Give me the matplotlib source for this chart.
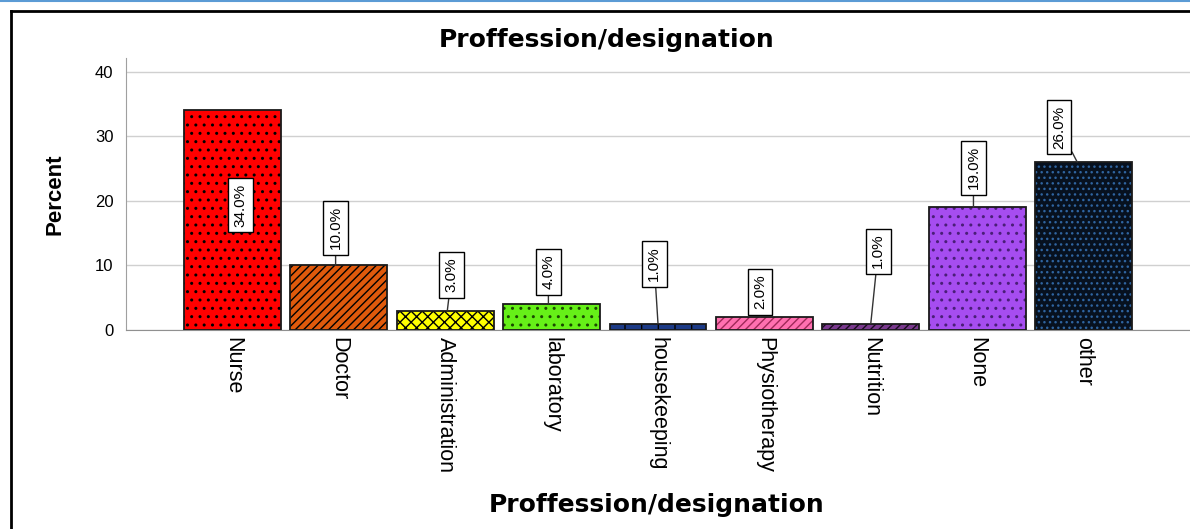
import matplotlib.pyplot as plt
from matplotlib.lines import Line2D

categories = ["Nurse", "Doctor", "Administration", "laboratory", "housekeeping",
              "Physiotherapy", "Nutrition", "None", "other"]
percent = [34.0, 10.0, 3.0, 4.0, 1.0, 2.0, 1.0, 19.0, 26.0]

# bar styling
face_colors = ["#FF0000", "#E05A0C", "#FFFF00", "#66F018", "#1C3A86",
               "#FF70B0", "#7A3A8E", "#A64DF0", "#07111F"]
hatch_colors = ["#000000", "#000000", "#000000", "#1A4A00", "#000000",
                "#A02858", "#1A0A20", "#4A1E78", "#2F64A0"]
hatches = ["..", "////", "xxx", "..", "|", "////", "////", "..", "..."]

# where the value boxes sit (box centre: x offset from bar, y in data units)
label_dx = [0.075, -0.03, 0.06, -0.03, -0.035, -0.04, 0.07, -0.035, -0.23]
label_y = [19.3, 15.8, 8.5, 9.0, 10.2, 5.9, 12.2, 25.1, 31.4]
line_dx = [0.0, -0.03, 0.02, -0.03, 0.0, -0.04, 0.0, -0.035, -0.06]

plt.rcParams['font.family'] = ['Liberation Sans', 'DejaVu Sans']

fig = plt.figure(figsize=(11.9, 5.29), dpi=100)
ax = fig.add_axes([0.10588, 0.37618, 0.8941, 0.5142])

x = list(range(len(categories)))
plt.rcParams['hatch.linewidth'] = 1.0
for i in x:
    ax.bar(i, percent[i], width=0.91, color=face_colors[i], hatch=hatches[i],
           edgecolor=hatch_colors[i], linewidth=0, zorder=2)
ax.bar(x, percent, width=0.91, fill=False, edgecolor="#1A1A1A", linewidth=1.3, zorder=3)

for i in x:
    txt = f"{percent[i]:.1f}%"
    box = dict(boxstyle="square,pad=0.35", fc="white", ec="black", lw=1)
    if label_y[i] < percent[i]:
        ax.text(i + label_dx[i], label_y[i], txt, rotation=90, ha="center", va="center",
                fontsize=11, bbox=box, zorder=5)
    else:
        ax.annotate(txt, xy=(i + line_dx[i], percent[i]), xytext=(i + label_dx[i], label_y[i]),
                    rotation=90, ha="center", va="center", fontsize=11,
                    bbox=box, zorder=5,
                    arrowprops=dict(arrowstyle="-", color="#333333", lw=1,
                                    shrinkA=0, shrinkB=0))

ax.set_xlim(-1.0, 9.0)
ax.set_ylim(0, 42.1)
ax.set_yticks([0, 10, 20, 30, 40])
ax.set_xticks(x)
ax.set_xticklabels(categories, rotation=-90, ha="center", va="top", fontsize=15.5)
ax.tick_params(axis="x", length=0, pad=5)
ax.tick_params(axis="y", length=0, pad=9, labelsize=12)
ax.yaxis.grid(True, color="#D0D0D0", lw=1, zorder=0)
ax.set_axisbelow(True)
for s in ["top", "right"]:
    ax.spines[s].set_visible(False)
ax.spines["left"].set_color("#A0A0A0")
ax.spines["bottom"].set_color("#909090")

ax.set_ylabel("Percent", fontsize=16, fontweight="bold")
ax.yaxis.set_label_coords(-0.0564, 0.5)

fig.text(607 / 1190, 1 - 40 / 529, "Proffession/designation", ha="center", va="center",
         fontsize=18, fontweight="bold", family="DejaVu Sans")
fig.text(657 / 1190, 1 - 505 / 529, "Proffession/designation", ha="center", va="center",
         fontsize=18, fontweight="bold", family="DejaVu Sans")

# outer frame
fig.add_artist(Line2D([0, 1], [0.999, 0.999], color="#5B9BD5", lw=1.5))
fig.add_artist(Line2D([0.0092, 1], [0.980, 0.980], color="black", lw=2))
fig.add_artist(Line2D([0.0092, 0.0092], [0.980, 0], color="black", lw=2))

plt.savefig("out.png", dpi=100)
